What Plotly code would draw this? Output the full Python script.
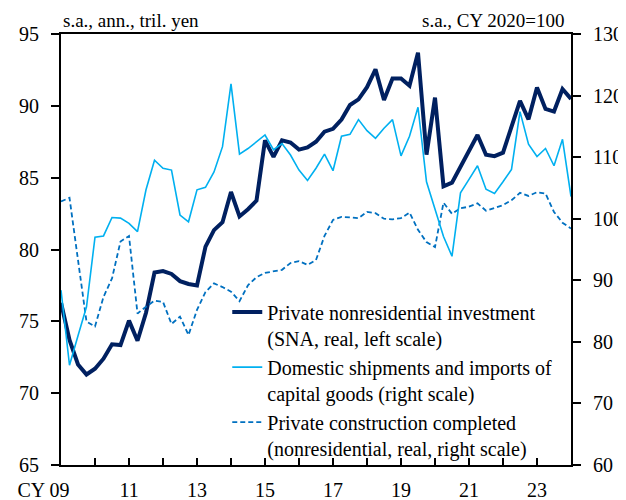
import pandas as pd
import plotly.graph_objects as go

# Quarterly periods 2009Q1 .. 2024Q1
quarters = pd.period_range("2009Q1", "2024Q1", freq="Q")
xpos = [p.year + (p.quarter - 1) / 4 for p in quarters]

nonres_investment = [
    76.3, 73.7, 72.0, 71.3, 71.7, 72.4, 73.4, 73.35, 75.05, 73.65,
    75.6, 78.4, 78.5, 78.3, 77.8, 77.6, 77.5, 80.2, 81.35, 81.9,
    84.0, 82.3, 82.8, 83.4, 87.6, 86.45, 87.6, 87.45, 86.95, 87.1,
    87.5, 88.2, 88.4, 89.05, 90.06, 90.45, 91.3, 92.54, 90.4, 91.9,
    91.9, 91.4, 93.7, 86.6, 90.57, 84.4, 84.65, 85.8, 86.9, 87.97,
    86.6, 86.5, 86.74, 88.55, 90.34, 89.06, 91.27, 89.78, 89.6, 91.17,
    90.48,
]

capital_goods = [
    88.4, 76.2, 81.0, 85.7, 97.0, 97.2, 100.2, 100.1, 99.25, 97.9,
    104.7, 109.5, 108.2, 107.9, 100.6, 99.5, 104.7, 105.1, 107.6, 111.7,
    121.9, 110.5, 111.4, 112.5, 113.6, 111.2, 112.2, 110.35, 107.9, 106.2,
    108.2, 110.5, 107.8, 113.4, 113.7, 116.1, 114.3, 113.05, 114.7, 116.1,
    110.2, 113.4, 118.1, 106.0, 101.7, 97.1, 93.9, 104.2, 106.4, 108.6,
    104.8, 104.1, 106.0, 108.0, 117.4, 112.1, 110.1, 111.4, 108.6, 112.9,
    103.6,
]

construction = [
    102.8, 103.4, 93.3, 83.3, 82.5, 87.3, 90.3, 96.3, 97.2, 84.6,
    85.7, 86.7, 86.5, 82.9, 84.1, 81.1, 85.2, 88.1, 89.5, 88.9,
    88.15, 86.6, 89.2, 90.5, 91.2, 91.5, 91.7, 92.8, 93.1, 92.5,
    93.3, 97.2, 99.8, 100.3, 100.2, 100.1, 101.1, 100.9, 100.0, 99.9,
    100.1, 101.0, 98.2, 96.2, 95.4, 102.6, 100.8, 101.7, 101.95, 102.5,
    101.3, 101.7, 102.2, 103.0, 104.2, 103.7, 104.3, 104.1, 101.1, 99.35,
    98.4,
]

year_ticks = list(range(2009, 2025))
NBSP = "\u00a0"
year_labels = [
    ("CY 09" + NBSP * 7) if y == 2009
    else (f"{y % 100:02d}" if y % 2 == 1 and y < 2024 else "")
    for y in year_ticks
]

left_ticks = [65, 70, 75, 80, 85, 90, 95]
right_ticks = [60, 70, 80, 90, 100, 110, 120, 130]

FONT = "Liberation Serif"

fig = go.Figure()
fig.add_trace(go.Scatter(
    x=xpos, y=construction, yaxis="y2", mode="lines",
    name="Private construction completed<br>(nonresidential, real, right scale)",
    line=dict(color="#0070C0", width=1.8, dash="5px,3px"), legendrank=3, legendgroup="c"))
fig.add_trace(go.Scatter(
    x=xpos, y=capital_goods, yaxis="y2", mode="lines",
    name="Domestic shipments and imports of<br>capital goods (right scale)",
    line=dict(color="#00B0F0", width=1.6), legendrank=2, legendgroup="b"))
fig.add_trace(go.Scatter(
    x=xpos, y=nonres_investment, yaxis="y", mode="lines",
    name="Private nonresidential investment<br>(SNA, real, left scale)",
    line=dict(color="#002060", width=4), legendrank=1, legendgroup="a"))

fig.update_layout(
    width=618, height=492,
    margin=dict(l=53, r=55, t=26, b=35, autoexpand=False),
    paper_bgcolor="white", plot_bgcolor="white",
    font=dict(family=FONT, size=20, color="black"),
    showlegend=True,
    legend=dict(
        x=0.326, y=0.40, xanchor="left", yanchor="top",
        bgcolor="rgba(0,0,0,0)", borderwidth=0,
        font=dict(family=FONT, size=20, color="black"),
        valign="top", tracegroupgap=4, traceorder="normal",
    ),
    xaxis=dict(
        range=[2009, 2024], tickmode="array", tickvals=year_ticks, ticktext=year_labels,
        ticks="inside", ticklen=7, tickwidth=1.5, tickcolor="black",
        showline=True, linecolor="black", linewidth=2, mirror=True,
        showgrid=False, zeroline=False, ticklabelstandoff=6,
        tickfont=dict(family=FONT, size=20),
    ),
    yaxis=dict(
        range=[65, 95], tickvals=left_ticks,
        ticks="outside", ticklen=8, tickwidth=1.5, tickcolor="black",
        showline=True, linecolor="black", linewidth=2,
        showgrid=False, zeroline=False, ticklabelstandoff=8,
        tickfont=dict(family=FONT, size=20),
    ),
    yaxis2=dict(
        range=[60, 130], tickvals=right_ticks, overlaying="y", side="right",
        ticks="outside", ticklen=8, tickwidth=1.5, tickcolor="black",
        showline=True, linecolor="black", linewidth=2,
        showgrid=False, zeroline=False, ticklabelstandoff=8,
        tickfont=dict(family=FONT, size=20),
    ),
    annotations=[
        dict(text="s.a., ann., tril. yen", xref="paper", yref="paper", x=0.0, y=1.0,
             xanchor="left", yanchor="bottom", yshift=1, showarrow=False,
             font=dict(family=FONT, size=19)),
        dict(text="s.a., CY 2020=100", xref="paper", yref="paper", x=0.99, y=1.0,
             xanchor="right", yanchor="bottom", yshift=1, showarrow=False,
             font=dict(family=FONT, size=19)),
    ],
)

fig.write_html("out.html")
